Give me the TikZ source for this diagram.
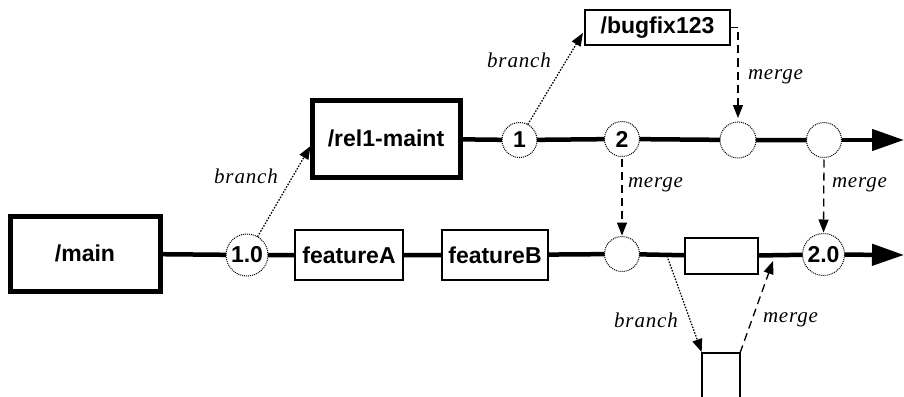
\documentclass[tikz,border=0pt]{standalone}
\usepackage{fontspec}
\setmainfont{Liberation Sans}
\newfontfamily\lblfont[LetterSpace=4]{Liberation Serif}
\usetikzlibrary{arrows.meta}

\tikzset{
  every node/.style={inner sep=0pt, outer sep=0pt},
  boxtext/.style={font=\fontsize{23}{26}\selectfont\bfseries},
  bigbox/.style={draw, line width=5pt, fill=white, boxtext},
  smallbox/.style={draw, line width=1.4pt, fill=white, boxtext},
  version/.style={circle, draw, densely dotted, line width=1pt, fill=white, boxtext},
  mainline/.style={line width=4.5pt},
  bigtip/.style={-{Triangle[length=32pt,width=21pt]}},
  branchline/.style={dash pattern=on 1.5pt off 1.5pt, line width=1.3pt, -{Triangle[length=13pt,width=10pt]}},
  mergeline/.style={dash pattern=on 8pt off 5pt, line width=1.3pt, -{Triangle[length=13pt,width=10pt]}},
  lbl/.style={font=\lblfont\fontsize{21}{24}\selectfont\itshape},
}

\begin{document}
\begin{tikzpicture}[x=1pt, y=-1pt]
  \useasboundingbox (0,0) rectangle (904,396);
  \clip (0,0) rectangle (904,396);

  % trunk
  \node[bigbox, minimum width=150pt, minimum height=75pt] (main) at (85,253.5) {/main};
  \node[version, minimum size=42pt] (c10) at (247,255) {1.0};
  \node[smallbox, minimum width=108pt, minimum height=50pt] (fa) at (349,255) {featureA};
  \node[smallbox, minimum width=106pt, minimum height=50pt] (fb) at (495,255) {featureB};
  \node[version, minimum size=35pt] (lc) at (622,254) {};
  \node[smallbox, minimum width=73pt, minimum height=36pt] (tb) at (721.5,256) {};
  \node[version, minimum size=42pt] (c20) at (823.5,254.5) {2.0};
  \coordinate (endlow) at (904,255);

  % side branch off the trunk
  \node[draw, line width=1.4pt, fill=white, minimum width=38pt, minimum height=60pt, anchor=north] (sb) at (721,353) {};

  % maintenance line
  \node[bigbox, minimum width=148pt, minimum height=77pt] (rel) at (386,138.5) {/rel1-maint};
  \node[version, minimum size=35pt] (c1) at (519.5,140) {1};
  \node[version, minimum size=35pt] (c2) at (622,139) {2};
  \node[version, minimum size=36pt] (c3) at (738,140) {};
  \node[version, minimum size=35pt] (c4) at (824,140) {};
  \coordinate (endup) at (904,140);

  % bug fix line
  \node[smallbox, minimum width=145pt, minimum height=35pt] (bug) at (657.5,27.5) {/bugfix123};

  % line segments
  \draw[mainline] (main) -- (c10) -- (fa) -- (fb) -- (lc) -- (tb) -- (c20);
  \draw[mainline, bigtip] (c20) -- (endlow);
  \draw[mainline] (rel) -- (c1) -- (c2) -- (c3) -- (c4);
  \draw[mainline, bigtip] (c4) -- (endup);

  % branches
  \draw[branchline, shorten >=3pt] (c10.60) -- ([yshift=-5pt]rel.west);
  \node[lbl] at (246,176) {branch};
  \draw[branchline, shorten >=4pt] (c1.62) -- ([yshift=-2pt]bug.west);
  \node[lbl] at (519,60) {branch};
  \coordinate (bp) at (667,256);
  \draw[branchline, shorten >=1pt] (bp) -- (sb.north west);
  \node[lbl] at (646,320) {branch};

  % merges
  \draw[mergeline, shorten >=4pt] (bug.east) -- (c3 |- bug.east) -- (c3.north);
  \node[lbl, anchor=west] at (748,77) {merge};
  \draw[mergeline, shorten <=2pt, shorten >=1pt] (c2.south) -- (lc.north);
  \node[lbl, anchor=west] at (628,185) {merge};
  \draw[mergeline, shorten <=2pt, shorten >=1pt] (c4.south) -- (c20.north);
  \node[lbl, anchor=west] at (832,185) {merge};
  \coordinate (mp) at (773,261);
  \draw[mergeline] (sb.north east) -- (mp);
  \node[lbl, anchor=west] at (763,320) {merge};
\end{tikzpicture}
\end{document}
